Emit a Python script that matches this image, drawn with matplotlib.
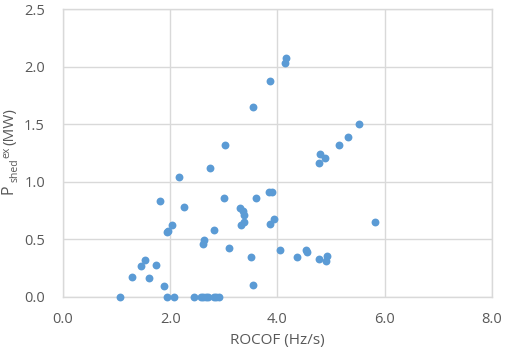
import matplotlib
matplotlib.use('Agg')
import matplotlib.pyplot as plt

plt.rcParams['font.family'] = ['Open Sans', 'DejaVu Sans']

# ROCOF (Hz/s) and shed power (MW)
rocof = [2.74, 2.17, 1.81, 2.26, 3.00, 3.60, 3.84, 3.89, 3.30, 3.35,
         3.38, 3.38, 3.33, 3.93, 3.87, 2.03, 1.94, 1.95, 2.81, 2.63,
         2.61, 3.09, 3.50, 4.05, 3.55, 1.53, 1.45, 1.73, 1.28, 1.60,
         1.89, 1.07, 1.94, 2.07, 2.44, 2.57, 2.62, 2.66, 2.71, 2.81,
         2.86, 2.91, 3.86, 3.54, 3.02, 4.16, 4.15, 5.52, 5.31, 5.15,
         4.79, 4.88, 4.77, 5.83, 4.37, 4.54, 4.55, 4.77, 4.93, 4.90]
p_shed = [1.12, 1.04, 0.835, 0.78, 0.86, 0.86, 0.91, 0.91, 0.77, 0.745,
          0.71, 0.65, 0.62, 0.68, 0.63, 0.62, 0.56, 0.57, 0.58, 0.49,
          0.455, 0.42, 0.345, 0.405, 0.10, 0.32, 0.27, 0.28, 0.17, 0.16,
          0.09, 0.0, 0.0, 0.0, 0.0, 0.0, 0.0, 0.0, 0.0, 0.0,
          0.0, 0.0, 1.88, 1.65, 1.32, 2.08, 2.035, 1.50, 1.39, 1.32,
          1.24, 1.21, 1.16, 0.65, 0.345, 0.405, 0.385, 0.33, 0.355, 0.31]

x_ticks = [0, 2, 4, 6, 8]
y_ticks = [0, 0.5, 1.0, 1.5, 2.0, 2.5]

grey = '#D9D9D9'
text_grey = '#595959'
W, H = 505, 353

fig = plt.figure(figsize=(5.05, 3.53), dpi=100)
ax = fig.add_axes([0.1248, 0.1595, 0.849, 0.814])

ax.scatter(rocof, p_shed, s=32, color='#5B9BD5', zorder=3, clip_on=False, linewidths=0)

ax.set_xlim(0, 8)
ax.set_ylim(0, 2.5)
ax.set_xticks(x_ticks)
ax.set_yticks(y_ticks)
ax.set_xticklabels(['%.1f' % v for v in x_ticks])
ax.set_yticklabels(['%.1f' % v for v in y_ticks])
ax.grid(True, color=grey, linewidth=1.0)
ax.set_axisbelow(True)
for s in ax.spines.values():
    s.set_color(grey)
    s.set_linewidth(1.0)
ax.tick_params(length=0, labelsize=10.5, colors=text_grey)
ax.tick_params(axis='x', pad=11)
ax.tick_params(axis='y', pad=13)

ax.set_xlabel('ROCOF (Hz/s)', fontsize=11, color=text_grey, labelpad=4)

# y label built from pieces: P, subscript "shed", superscript "ex", "(MW)"
def ylab(txt, x, y, size):
    fig.text(x / W, 1 - y / H, txt, rotation=90, rotation_mode='anchor',
             ha='left', va='baseline', fontsize=size, color=text_grey)

ylab('P', 13, 194, 11.5)
ylab('shed', 18, 182, 7.5)
ylab('ex', 9, 158, 7.5)
ylab('(MW)', 13, 145, 11)

fig.savefig('out.png', dpi=100)
